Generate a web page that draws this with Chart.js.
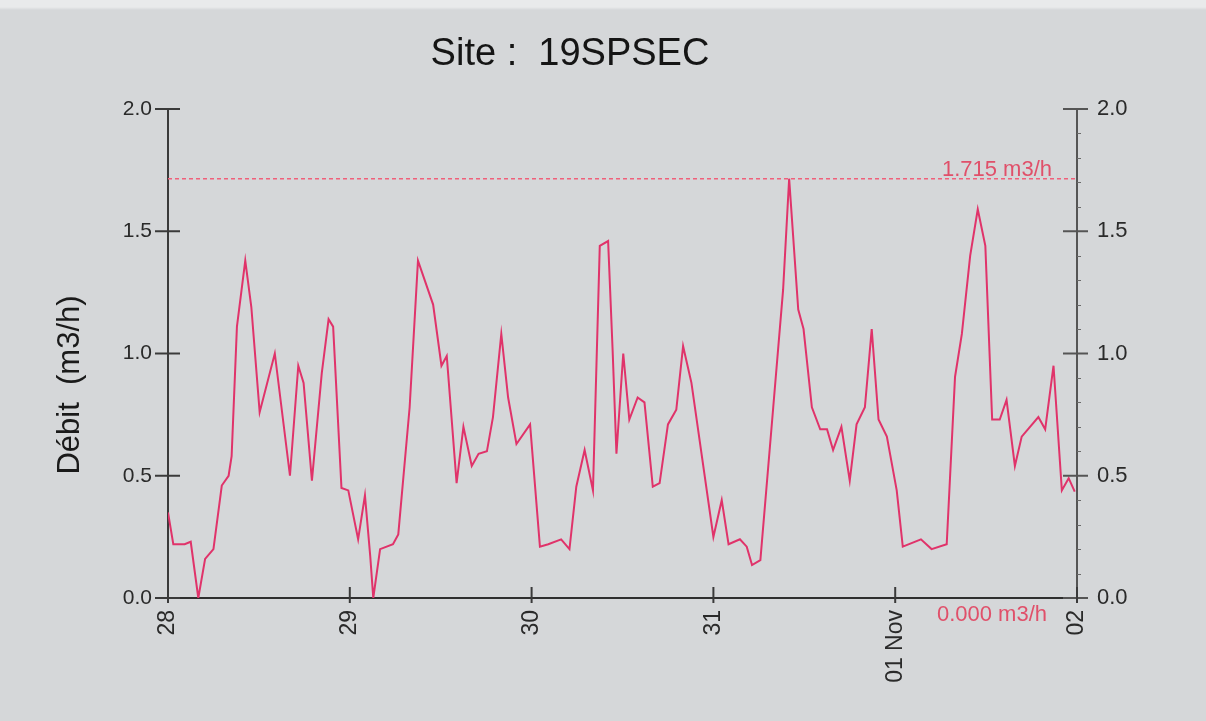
<!DOCTYPE html>
<html><head><meta charset="utf-8">
<script src="https://cdn.jsdelivr.net/npm/chart.js@4/dist/chart.umd.min.js"></script>
<style>
html,body{margin:0;padding:0;background:#d5d7d9;}
#wrap{width:1206px;height:721px;position:relative;background:linear-gradient(#e9eaeb 0,#e9eaeb 7px,#d5d7d9 10px,#d5d7d9 100%);}
canvas{display:block;}
</style></head><body>
<div id="wrap"><canvas id="c" width="1206" height="721"></canvas></div>
<script>
const titleText = 'Site :  19SPSEC';
const yTitleText = 'Débit  (m3/h)';
const dayLabels = ['28', '29', '30', '31', '01 Nov', '02'];
const yTickValues = [0, 0.5, 1.0, 1.5, 2.0];
const maxFlow = 1.715;
const minFlow = 0.000;
const maxLabel = '1.715 m3/h';
const minLabel = '0.000 m3/h';

// hours since 28 Oct 00:00
const hours = [0, 0.7, 2.2, 3.0, 4.0, 4.9, 6.0, 7.1, 8.0, 8.4, 9.1, 10.2, 11.0, 12.1, 14.1, 16.1, 17.2, 17.9, 19.0, 20.3, 21.2, 21.8, 22.9, 23.8,
  25.1, 26.0, 26.7, 27.1, 28.0, 29.7, 30.4, 31.9, 33.0, 35.0, 36.1, 36.8, 38.1, 39.0, 40.1, 41.0, 42.1, 42.9, 44.0, 44.9, 46.0, 47.8,
  49.1, 50.2, 51.9, 53.0, 53.9, 55.0, 56.1, 57.0, 58.1, 58.7, 59.2, 60.1, 60.9, 62.0, 62.9, 64.0, 64.9, 66.0, 67.1, 68.0, 69.1,
  72.0, 73.1, 74.0, 75.5, 76.4, 77.1, 78.2, 79.9, 81.2, 82.0, 83.2, 83.9, 85.0, 86.1, 87.0, 87.8, 88.9, 90.0, 90.9, 92.0, 92.9, 93.8, 94.9,
  96.2, 97.0, 99.4, 100.8, 102.8, 103.9, 104.8, 105.9, 106.9, 107.9, 108.8, 109.8, 110.7, 111.8, 112.7, 114.9, 115.8, 116.9, 118.0, 118.9, 119.7];
const flow = [0.35, 0.22, 0.22, 0.23, 0.00, 0.16, 0.20, 0.46, 0.50, 0.58, 1.11, 1.38, 1.19, 0.76, 1.00, 0.50, 0.95, 0.88, 0.48, 0.92, 1.14, 1.11, 0.45, 0.44,
  0.24, 0.42, 0.17, 0.00, 0.20, 0.22, 0.26, 0.78, 1.38, 1.20, 0.95, 0.99, 0.47, 0.70, 0.54, 0.59, 0.60, 0.74, 1.08, 0.82, 0.63, 0.71,
  0.21, 0.22, 0.24, 0.20, 0.455, 0.605, 0.44, 1.44, 1.46, 1.01, 0.59, 1.00, 0.73, 0.82, 0.80, 0.455, 0.47, 0.71, 0.77, 1.03, 0.88,
  0.25, 0.40, 0.22, 0.24, 0.21, 0.135, 0.155, 0.78, 1.26, 1.715, 1.18, 1.10, 0.78, 0.69, 0.69, 0.605, 0.70, 0.48, 0.71, 0.78, 1.10, 0.73, 0.66,
  0.44, 0.21, 0.24, 0.20, 0.22, 0.905, 1.08, 1.40, 1.59, 1.44, 0.73, 0.73, 0.81, 0.54, 0.66, 0.74, 0.69, 0.95, 0.44, 0.49, 0.435];

const FONT = '"Liberation Sans", Arial, sans-serif';

const decor = {
  id: 'decor',
  afterDraw(chart) {
    const ctx = chart.ctx, a = chart.chartArea;
    const sx = chart.scales.x, sy = chart.scales.y, sy2 = chart.scales.y2;
    ctx.save();
    ctx.lineCap = 'butt';
    const line = (x1, y1, x2, y2) => { ctx.beginPath(); ctx.moveTo(x1, y1); ctx.lineTo(x2, y2); ctx.stroke(); };
    // minor ticks right axis
    ctx.strokeStyle = '#6a6a6a'; ctx.lineWidth = 1;
    for (let k = 1; k < 20; k++) {
      if (k % 5 === 0) continue;
      const p = Math.round(sy2.getPixelForValue(k / 10)) + 0.5;
      line(a.right, p, a.right + 4, p);
    }
    ctx.lineWidth = 2;
    ctx.strokeStyle = '#3a3a3a';
    sy.ticks.forEach((t, i) => { const p = sy.getPixelForTick(i); line(a.left - 13, p, a.left + 12, p); });
    ctx.strokeStyle = '#555';
    sy2.ticks.forEach((t, i) => { const p = sy2.getPixelForTick(i); line(a.right - 14, p, a.right + 11, p); });
    ctx.strokeStyle = '#3a3a3a';
    sx.ticks.forEach((t, i) => { const p = sx.getPixelForTick(i); line(p, a.bottom - 11, p, a.bottom + 5); });

    // title
    ctx.fillStyle = '#151515';
    ctx.font = '38px ' + FONT;
    ctx.textAlign = 'center'; ctx.textBaseline = 'middle';
    ctx.fillText(titleText, 570, 55);
    // y title
    ctx.save();
    ctx.translate(70, 385);
    ctx.rotate(-Math.PI / 2);
    ctx.font = '31px ' + FONT;
    ctx.fillStyle = '#1a1a1a';
    ctx.fillText(yTitleText, 0, 0);
    ctx.restore();
    // max / min labels
    ctx.fillStyle = '#e0506a';
    ctx.font = '22px ' + FONT;
    ctx.textAlign = 'right'; ctx.textBaseline = 'alphabetic';
    ctx.fillText(maxLabel, a.right - 25, sy.getPixelForValue(maxFlow) - 3);
    ctx.textBaseline = 'top';
    ctx.fillText(minLabel, a.right - 30, sy.getPixelForValue(minFlow) + 6);
    ctx.restore();
  }
};

const flowPoints = hours.map((h, i) => ({ x: h, y: flow[i] }));
const maxLine = [{ x: 0, y: maxFlow }, { x: 120, y: maxFlow }];

new Chart(document.getElementById('c'), {
  type: 'line',
  data: {
    datasets: [
      { data: flowPoints, borderColor: '#e0336a', borderWidth: 2, pointRadius: 0, tension: 0, yAxisID: 'y' },
      { data: maxLine, borderColor: '#f0607a', borderWidth: 1.5, borderDash: [4, 3], pointRadius: 0, yAxisID: 'y' }
    ]
  },
  options: {
    responsive: false,
    animation: false,
    devicePixelRatio: 1,
    layout: { padding: { top: 109, left: 0, right: 0, bottom: 0 } },
    plugins: { legend: { display: false }, tooltip: { enabled: false }, title: { display: false } },
    scales: {
      x: {
        type: 'linear', position: 'bottom', min: 0, max: 120,
        afterFit: s => { s.height = 123; },
        afterBuildTicks: s => { s.ticks = dayLabels.map((l, i) => ({ value: i * 24 })); },
        ticks: {
          autoSkip: false, maxRotation: 90, minRotation: 90, padding: 12,
          font: { size: 23, family: FONT }, color: '#2a2a2a',
          callback: (v) => dayLabels[Math.round(v / 24)]
        },
        grid: { display: true, drawOnChartArea: false, drawTicks: false },
        border: { display: true, color: '#2f2f2f', width: 2 }
      },
      y: {
        type: 'linear', position: 'left', min: 0, max: 2,
        afterFit: s => { s.width = 168; },
        afterBuildTicks: s => { s.ticks = yTickValues.map(v => ({ value: v })); },
        ticks: { padding: 16, font: { size: 21, family: FONT }, color: '#2a2a2a', callback: v => Number(v).toFixed(1) },
        grid: { display: true, drawOnChartArea: false, drawTicks: false },
        border: { display: true, color: '#3a3a3a', width: 2 }
      },
      y2: {
        type: 'linear', position: 'right', min: 0, max: 2,
        afterFit: s => { s.width = 129; },
        afterBuildTicks: s => { s.ticks = yTickValues.map(v => ({ value: v })); },
        ticks: { padding: 20, font: { size: 22, family: FONT }, color: '#2a2a2a', callback: v => Number(v).toFixed(1) },
        grid: { display: true, drawOnChartArea: false, drawTicks: false },
        border: { display: true, color: '#555', width: 2 }
      }
    }
  },
  plugins: [decor]
});
</script>
</body></html>
